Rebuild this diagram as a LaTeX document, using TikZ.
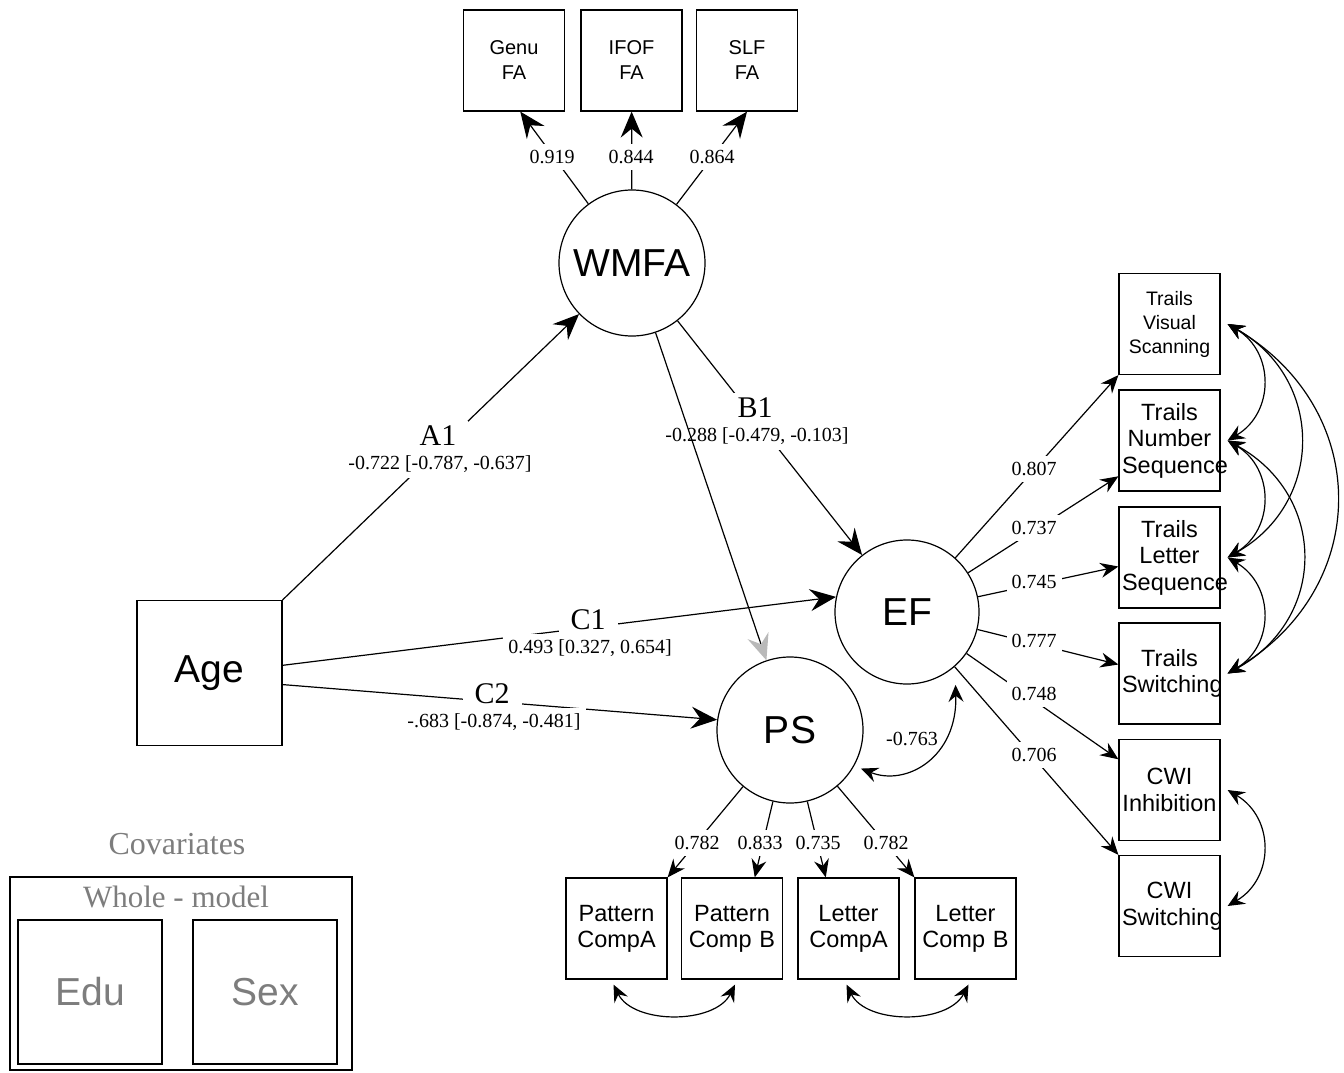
\documentclass[tikz,border=0pt]{standalone}
\usepackage{fontspec}
\setmainfont{Liberation Serif}
\newfontfamily\sansfont{Liberation Sans}
\usetikzlibrary{arrows.meta,calc}
\newcommand\fsz[2]{\fontsize{#1}{#2}\selectfont}
\definecolor{covgray}{RGB}{125,125,125}
\definecolor{headgray}{RGB}{185,185,185}

\begin{document}
\begin{tikzpicture}[x=1pt,y=-1pt,line width=1.2pt,
  ind/.style={draw,minimum width=101pt,minimum height=101pt,text width=95pt,align=center,inner sep=3pt},
  latent/.style={draw,circle,minimum size=#1,inner sep=0pt,font=\sansfont\fsz{39}{45}},
  bighead/.style={-{Stealth[length=26pt,width=22pt,inset=9pt]}},
  smallhead/.style={-{Stealth[length=18pt,width=15pt,inset=6pt]}},
  cov/.style={{Stealth[length=17pt,width=15pt,inset=6pt]}-{Stealth[length=17pt,width=15pt,inset=6pt]}},
  coef/.style={fill=white,inner xsep=5pt,inner ysep=6pt,font=\fsz{20}{24}},
  pathname/.style={fill=white,inner xsep=12pt,inner ysep=5pt,font=\fsz{30}{34}},
  graytext/.style={text=covgray},
]
\fill[white] (0,0) rectangle (1344,1073);
\useasboundingbox (0,0) rectangle (1344,1073);

% ---- latent variables and the predictor
\node[latent=146pt] (wmfa) at (632,263) {WMFA};
\node[latent=144pt] (ef) at (907,612) {EF};
\node[latent=146pt] (ps) at (790,730) {PS};
\node[draw,minimum size=145pt,inner sep=0pt,font=\sansfont\fsz{39}{45}] (age) at (209.5,673) {Age};

% ---- white-matter indicators
\node[ind,font=\sansfont\fsz{20}{25}] (genu) at (514,60.5) {Genu\\FA};
\node[ind,font=\sansfont\fsz{20}{25}] (ifof) at (631.5,60.5) {IFOF\\FA};
\node[ind,font=\sansfont\fsz{20}{25}] (slf) at (747,60.5) {SLF\\FA};

% ---- executive-function indicators
\node[ind,font=\sansfont\fsz{19.5}{24}] (tvs) at (1169.5,324) {Trails\\Visual\\Scanning};
\node[ind,font=\sansfont\fsz{23.5}{26.5}] (tns) at (1169.5,440.5) {Trails\\Number\\Sequence};
\node[ind,font=\sansfont\fsz{23.5}{26.5}] (tls) at (1169.5,557.5) {Trails\\Letter\\Sequence};
\node[ind,font=\sansfont\fsz{23.5}{26.5}] (tsw) at (1169.5,673.5) {Trails\\Switching};
\node[ind,font=\sansfont\fsz{23.5}{26.5}] (cwii) at (1169.5,790) {CWI\\Inhibition};
\node[ind,font=\sansfont\fsz{23.5}{26.5}] (cwis) at (1169.5,906) {CWI\\Switching};

% ---- processing-speed indicators
\node[ind,font=\sansfont\fsz{23.5}{26}] (pca) at (616.5,928.5) {Pattern\\CompA};
\node[ind,font=\sansfont\fsz{23.5}{26}] (pcb) at (732,928.5) {Pattern\\Comp B};
\node[ind,font=\sansfont\fsz{23.5}{26}] (lca) at (848.5,928.5) {Letter\\CompA};
\node[ind,font=\sansfont\fsz{23.5}{26}] (lcb) at (965.5,928.5) {Letter\\Comp B};

% ---- covariates panel
\node[graytext,font=\fsz{32}{36}] (covtitle) at (177,844) {Covariates};
\node[draw,minimum width=342pt,minimum height=193pt,inner sep=0pt] (wholebox) at (181,973.5) {};
\node[graytext,font=\fsz{31}{35}] (wholetitle) at (176,897) {Whole - model};
\node[draw,minimum size=144pt,inner sep=0pt,graytext,font=\sansfont\fsz{39}{45}] (edu) at (90,992) {Edu};
\node[draw,minimum size=144pt,inner sep=0pt,graytext,font=\sansfont\fsz{39}{45}] (sex) at (265,992) {Sex};

% ---- loadings of WMFA
\draw[bighead] (wmfa) -- (genu.-83);
\draw[bighead] (wmfa) -- (ifof);
\draw[bighead] (wmfa) -- (slf.south);
\node[coef] (l1) at (552,157) {0.919};
\node[coef] (l2) at (631,157) {0.844};
\node[coef] (l3) at (712,157) {0.864};

% ---- structural paths
\draw[bighead] (age.north east) -- (wmfa);
\node[pathname] (a1) at (438,436) {A1};
\node[coef] (a1v) at (440,464) {-0.722 [-0.787, -0.637]};

\draw[bighead] (wmfa) -- (ef);
\node[pathname] (b1) at (755,408) {B1};
\node[coef] (b1v) at (757,436) {-0.288 [-0.479, -0.103]};

\draw[-{Stealth[length=26pt,width=22pt,inset=9pt,color=headgray]}] (wmfa) -- (ps);

\draw[bighead] (age.6) -- (ef.168);
\node[pathname] (c1) at (588,620) {C1};
\node[coef] (c1v) at (590,648) {0.493 [0.327, 0.654]};

\draw[bighead] (age.-9) -- (ps.172);
\node[pathname] (c2) at (492,694) {C2};
\node[coef] (c2v) at (494,722) {-.683 [-0.874, -0.481]};

% ---- loadings of EF
\draw[smallhead] (ef) -- (tvs.south west);
\draw[smallhead] (ef) -- (tns.215);
\draw[smallhead] (ef) -- (tls.190);
\draw[smallhead] (ef) -- (tsw.170);
\draw[smallhead] (ef) -- (cwii.149);
\draw[smallhead] (ef) -- (cwis.north west);
\node[coef] (e1) at (1034,469) {0.807};
\node[coef] (e2) at (1034,528) {0.737};
\node[coef] (e3) at (1034,582) {0.745};
\node[coef] (e4) at (1034,641) {0.777};
\node[coef] (e5) at (1034,694) {0.748};
\node[coef] (e6) at (1034,755) {0.706};

% ---- loadings of PS
\draw[smallhead] (ps) -- (pca.north east);
\draw[smallhead] (ps) -- (pcb.66);
\draw[smallhead] (ps) -- (lca.114);
\draw[smallhead] (ps) -- (lcb.north west);
\node[coef] (p1) at (697,843) {0.782};
\node[coef] (p2) at (760,843) {0.833};
\node[coef] (p3) at (818,843) {0.735};
\node[coef] (p4) at (886,843) {0.782};

% ---- latent covariance
\draw[cov] ([xshift=9pt,yshift=-12pt]ef.-57) .. controls ($(ef.-57)+(11,85)$) and ($(ps.-28)+(51,22)$) .. ([xshift=6pt,yshift=-4pt]ps.-28);
\node[font=\fsz{20}{24}] (efps) at (912,739) {-0.763};

% ---- residual covariances among the Trails measures
\draw[cov] ([xshift=7pt]tvs.east) .. controls ($(tvs.east)+(54,28)$) and ($(tns.east)+(54,-28)$) .. ([xshift=7pt]tns.east);
\draw[cov] ([xshift=7pt]tvs.east) .. controls ($(tvs.east)+(104,55)$) and ($(tls.east)+(104,-55)$) .. ([xshift=7pt]tls.east);
\draw[cov] ([xshift=7pt]tvs.east) .. controls ($(tvs.east)+(152,85)$) and ($(tsw.east)+(152,-85)$) .. ([xshift=7pt]tsw.east);
\draw[cov] ([xshift=7pt]tns.east) .. controls ($(tns.east)+(54,28)$) and ($(tls.east)+(54,-28)$) .. ([xshift=7pt]tls.east);
\draw[cov] ([xshift=7pt]tns.east) .. controls ($(tns.east)+(107,55)$) and ($(tsw.east)+(107,-55)$) .. ([xshift=7pt]tsw.east);
\draw[cov] ([xshift=7pt]tls.east) .. controls ($(tls.east)+(54,28)$) and ($(tsw.east)+(54,-28)$) .. ([xshift=7pt]tsw.east);
\draw[cov] ([xshift=7pt]cwii.east) .. controls ($(cwii.east)+(54,28)$) and ($(cwis.east)+(54,-28)$) .. ([xshift=7pt]cwis.east);

% ---- residual covariances among the Comparison measures
\draw[cov] ([xshift=-3pt,yshift=-5pt]pca.south) .. controls ($(pca.south)+(17,45)$) and ($(pcb.south)+(-17,45)$) .. ([xshift=3pt,yshift=-5pt]pcb.south);
\draw[cov] ([xshift=-2pt,yshift=-5pt]lca.south) .. controls ($(lca.south)+(18,45)$) and ($(lcb.south)+(-18,45)$) .. ([xshift=3pt,yshift=-5pt]lcb.south);
\end{tikzpicture}
\end{document}
